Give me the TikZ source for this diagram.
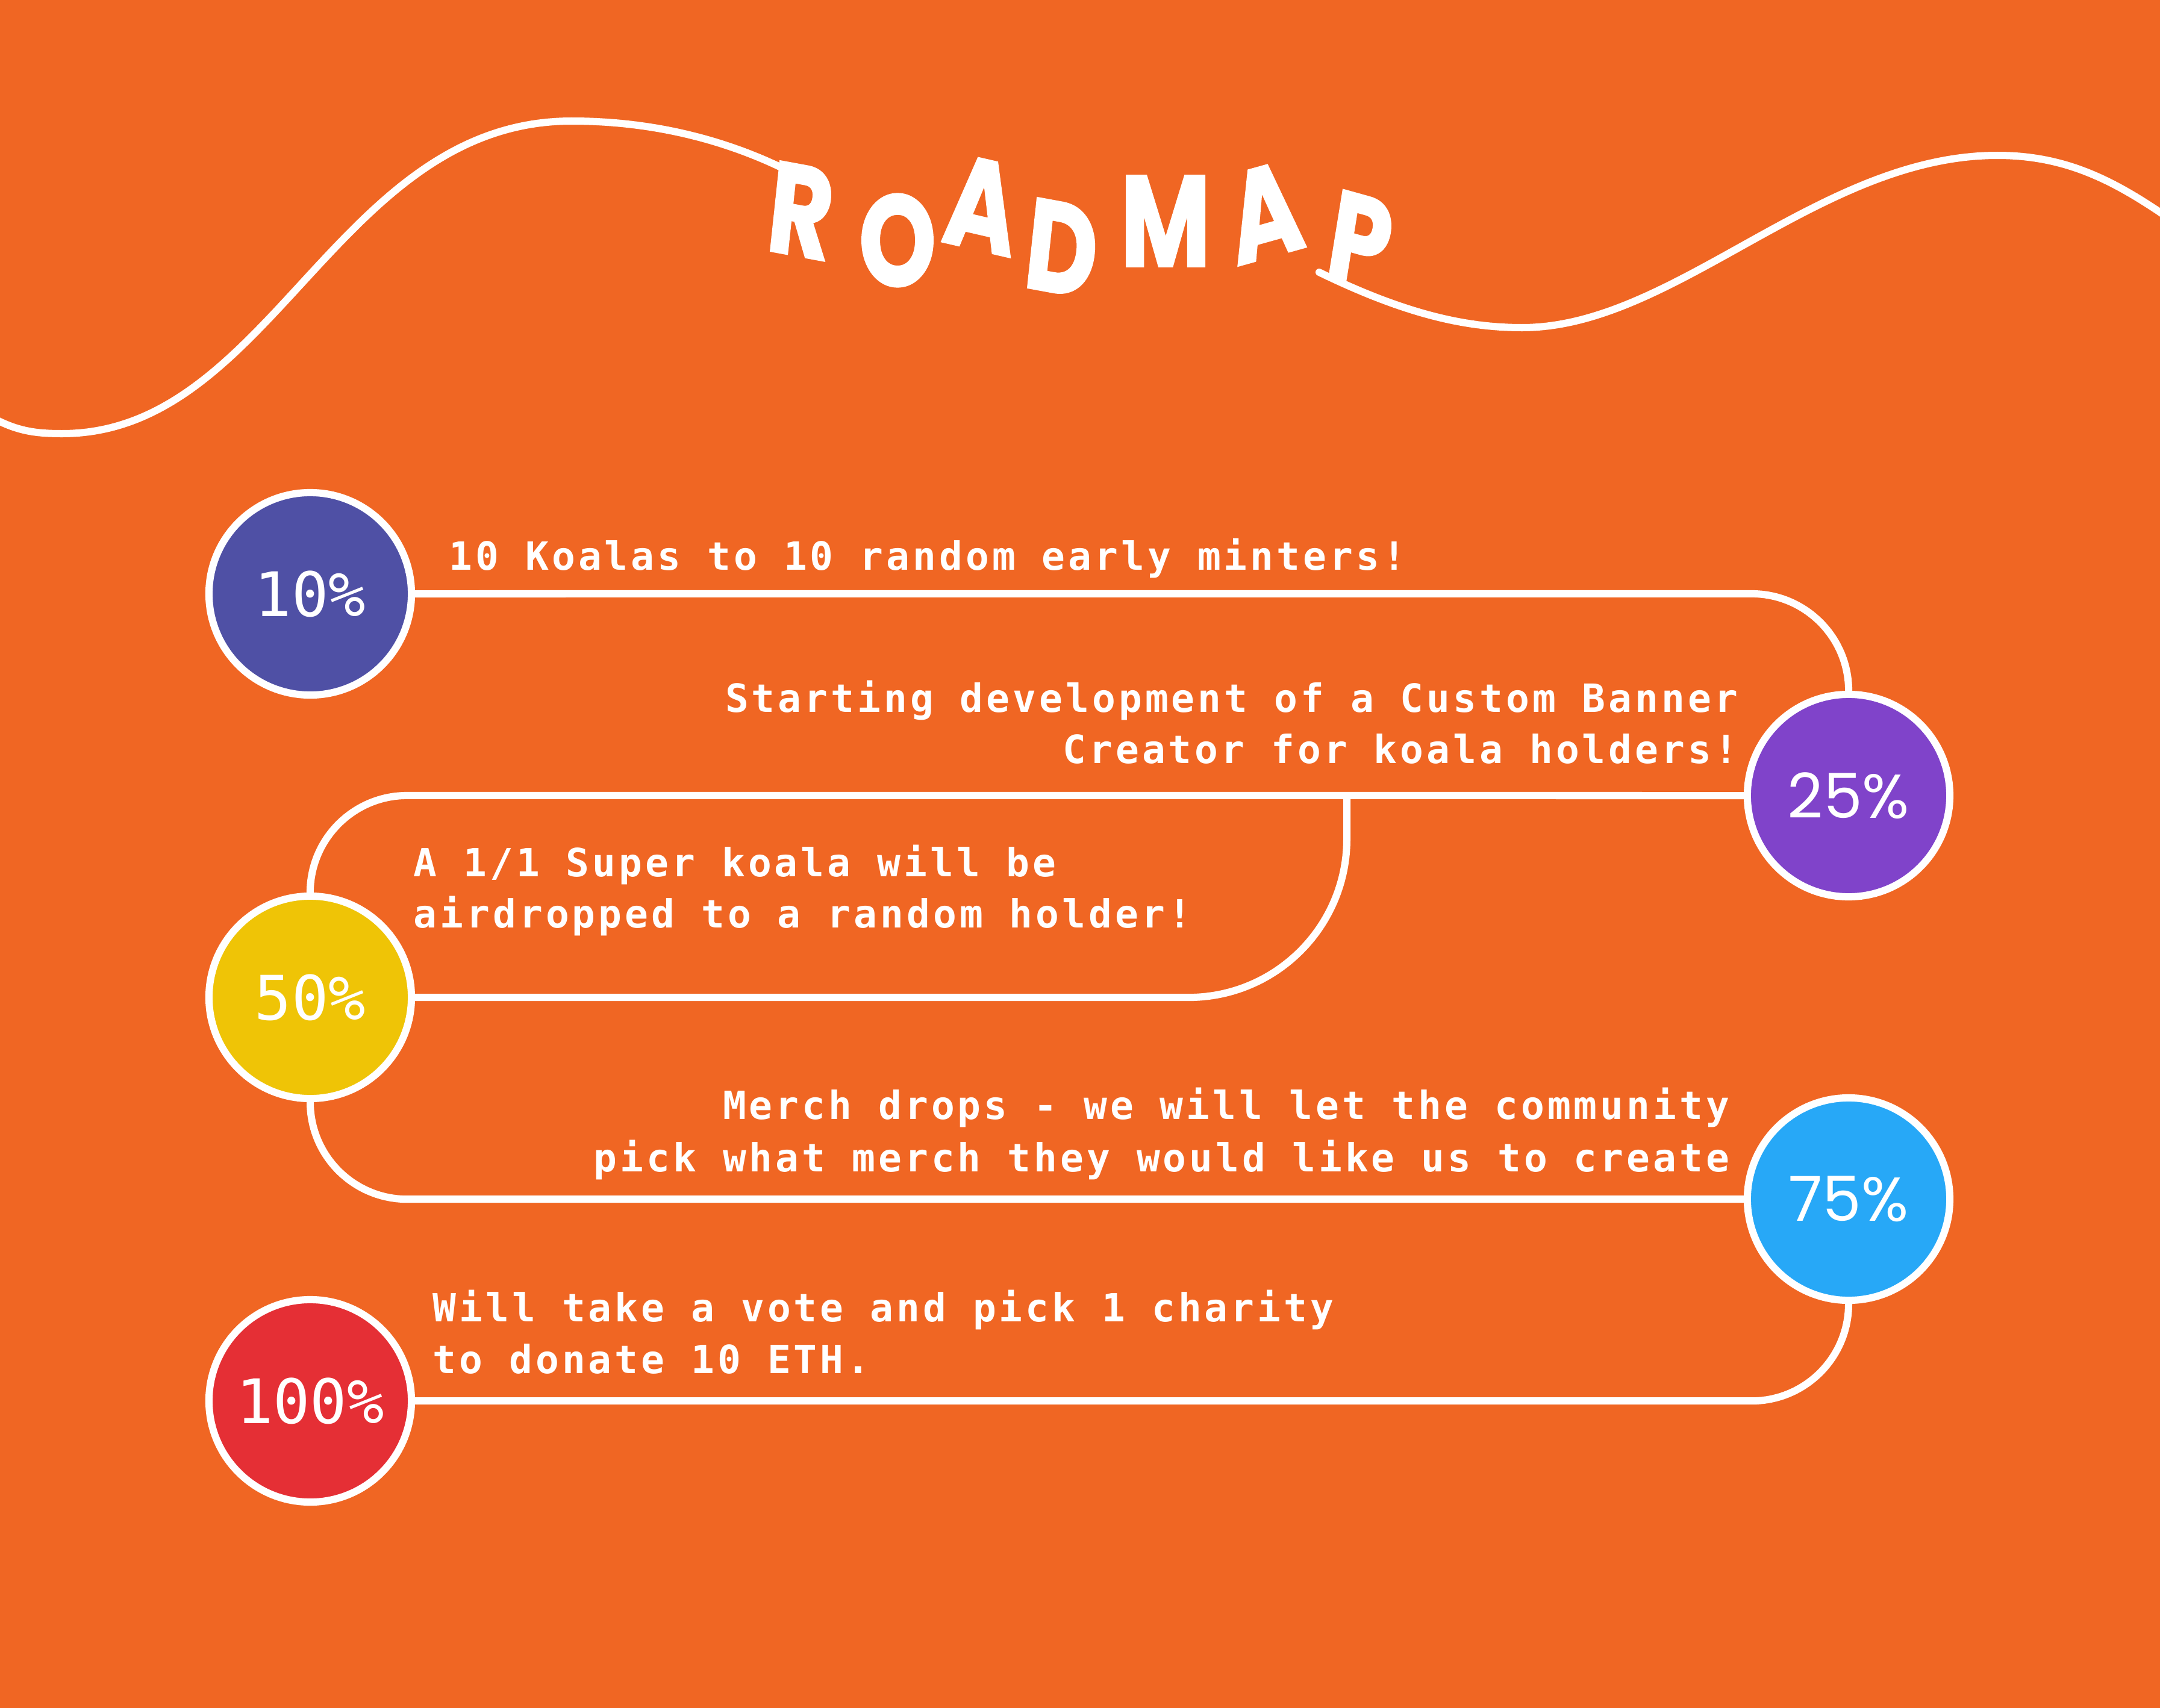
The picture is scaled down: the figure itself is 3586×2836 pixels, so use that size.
\documentclass[tikz,border=0pt]{standalone}
\usepackage{fontspec}
\usetikzlibrary{calc}
\newfontfamily\bodyfont{DejaVu Sans Mono}[LetterSpace=7.8]
\newfontfamily\pctmonofont{DejaVu Sans Mono}
\newfontfamily\pctsansfont{Poppins}
\newfontfamily\titlefont{Poppins}[FakeBold=1.5]
\definecolor{bgorange}{HTML}{F06623}
\definecolor{cTen}{HTML}{4F50A5}
\definecolor{cTwentyFive}{HTML}{8043CA}
\definecolor{cFifty}{HTML}{EFC406}
\definecolor{cSeventyFive}{HTML}{27A8F7}
\definecolor{cHundred}{HTML}{E52F35}
\begin{document}
\begin{tikzpicture}[x=0.01cm,y=-0.01cm,
  milestone/.style={circle, draw=white, line width=0.12cm, minimum size=3.36cm, inner sep=0pt, text=white},
  pctmono/.style={font=\pctmonofont\fontsize{29pt}{30pt}\selectfont},
  pctsans/.style={font=\pctsansfont\fontsize{29.3pt}{30pt}\selectfont},
  conn/.style={draw=white, line width=0.12cm},
  wave/.style={draw=white, line width=0.12cm, line cap=round},
  body/.style={text=white, inner sep=0pt, font=\bodyfont\bfseries\fontsize{18.35pt}{24.5pt}\selectfont},
  letter/.style={text=white, inner sep=0pt, font=\titlefont\bfseries\fontsize{58pt}{60pt}\selectfont, xscale=0.8, yscale=1.05, transform shape}
]
\fill[bgorange] (0,0) rectangle (3586,2836);
\useasboundingbox (0,0) rectangle (3586,2836);

% wave
\draw[wave] (-10,695) .. controls (30,716) and (60,720) .. (103,720)
  .. controls (450,720) and (560,201) .. (949,201)
  .. controls (1100,201) and (1220,240) .. (1305,282);
\draw[wave] (2190,452) .. controls (2330,520) and (2430,544) .. (2527,544)
  .. controls (2780,544) and (3020,258) .. (3316,258)
  .. controls (3430,258) and (3510,300) .. (3600,362);

% title
\node[letter, rotate=-8] (tR) at (1330,350) {R};
\node[letter] (tO) at (1490,399) {O};
\node[letter, rotate=-10] (tA) at (1630,340) {A};
\node[letter, rotate=-8] (tD) at (1763,412) {D};
\node[letter] (tM) at (1935,367) {M};
\node[letter, rotate=12] (tA2) at (2100,352) {A};
\node[letter, rotate=-12] (tP) at (2258,400) {P};

% milestones
\node[milestone, fill=cTen, pctmono] (c10) at (515,986) {10\%};
\node[milestone, fill=cTwentyFive, pctsans] (c25) at (3069,1321) {25\%};
\node[milestone, fill=cFifty, pctmono] (c50) at (515,1656) {50\%};
\node[milestone, fill=cSeventyFive, pctsans] (c75) at (3069,1991) {75\%};
\node[milestone, fill=cHundred, pctmono] (c100) at (515,2326) {100\%};

% connectors
\draw[conn] (c10.east) -- ($(c25.north)+(-161,-161)$) arc[start angle=90, end angle=0, radius=1.61cm];
\draw[conn] (c25.west) -- ($(c50.north)+(161,-161)$) arc[start angle=90, end angle=180, radius=1.61cm];
\coordinate (split) at (2236,1321);
\draw[conn] (split) -- ++(0,72) arc[start angle=0, end angle=-90, radius=2.63cm] -- (c50.east);
\draw[conn] (c50.south) arc[start angle=180, end angle=270, radius=1.61cm] -- (c75.west);
\draw[conn] (c75.south) arc[start angle=0, end angle=-90, radius=1.61cm] -- (c100.east);

% texts
\node[body, anchor=base west] (t1) at (745,946) {10 Koalas to 10 random early minters!};
\node[body, anchor=base east] (t2a) at (2886,1182) {Starting development of a Custom Banner};
\node[body, anchor=base east] (t2b) at (2886,1267) {Creator for koala holders!};
\node[body, anchor=base west] (t3a) at (686,1455) {A 1/1 Super koala will be};
\node[body, anchor=base west] (t3b) at (686,1540) {airdropped to a random holder!};
\node[body, anchor=base east] (t4a) at (2872,1858) {Merch drops - we will let the community};
\node[body, anchor=base east] (t4b) at (2872,1945) {pick what merch they would like us to create};
\node[body, anchor=base west] (t5a) at (718,2194) {Will take a vote and pick 1 charity};
\node[body, anchor=base west] (t5b) at (718,2280) {to donate 10 ETH.};
\end{tikzpicture}
\end{document}
